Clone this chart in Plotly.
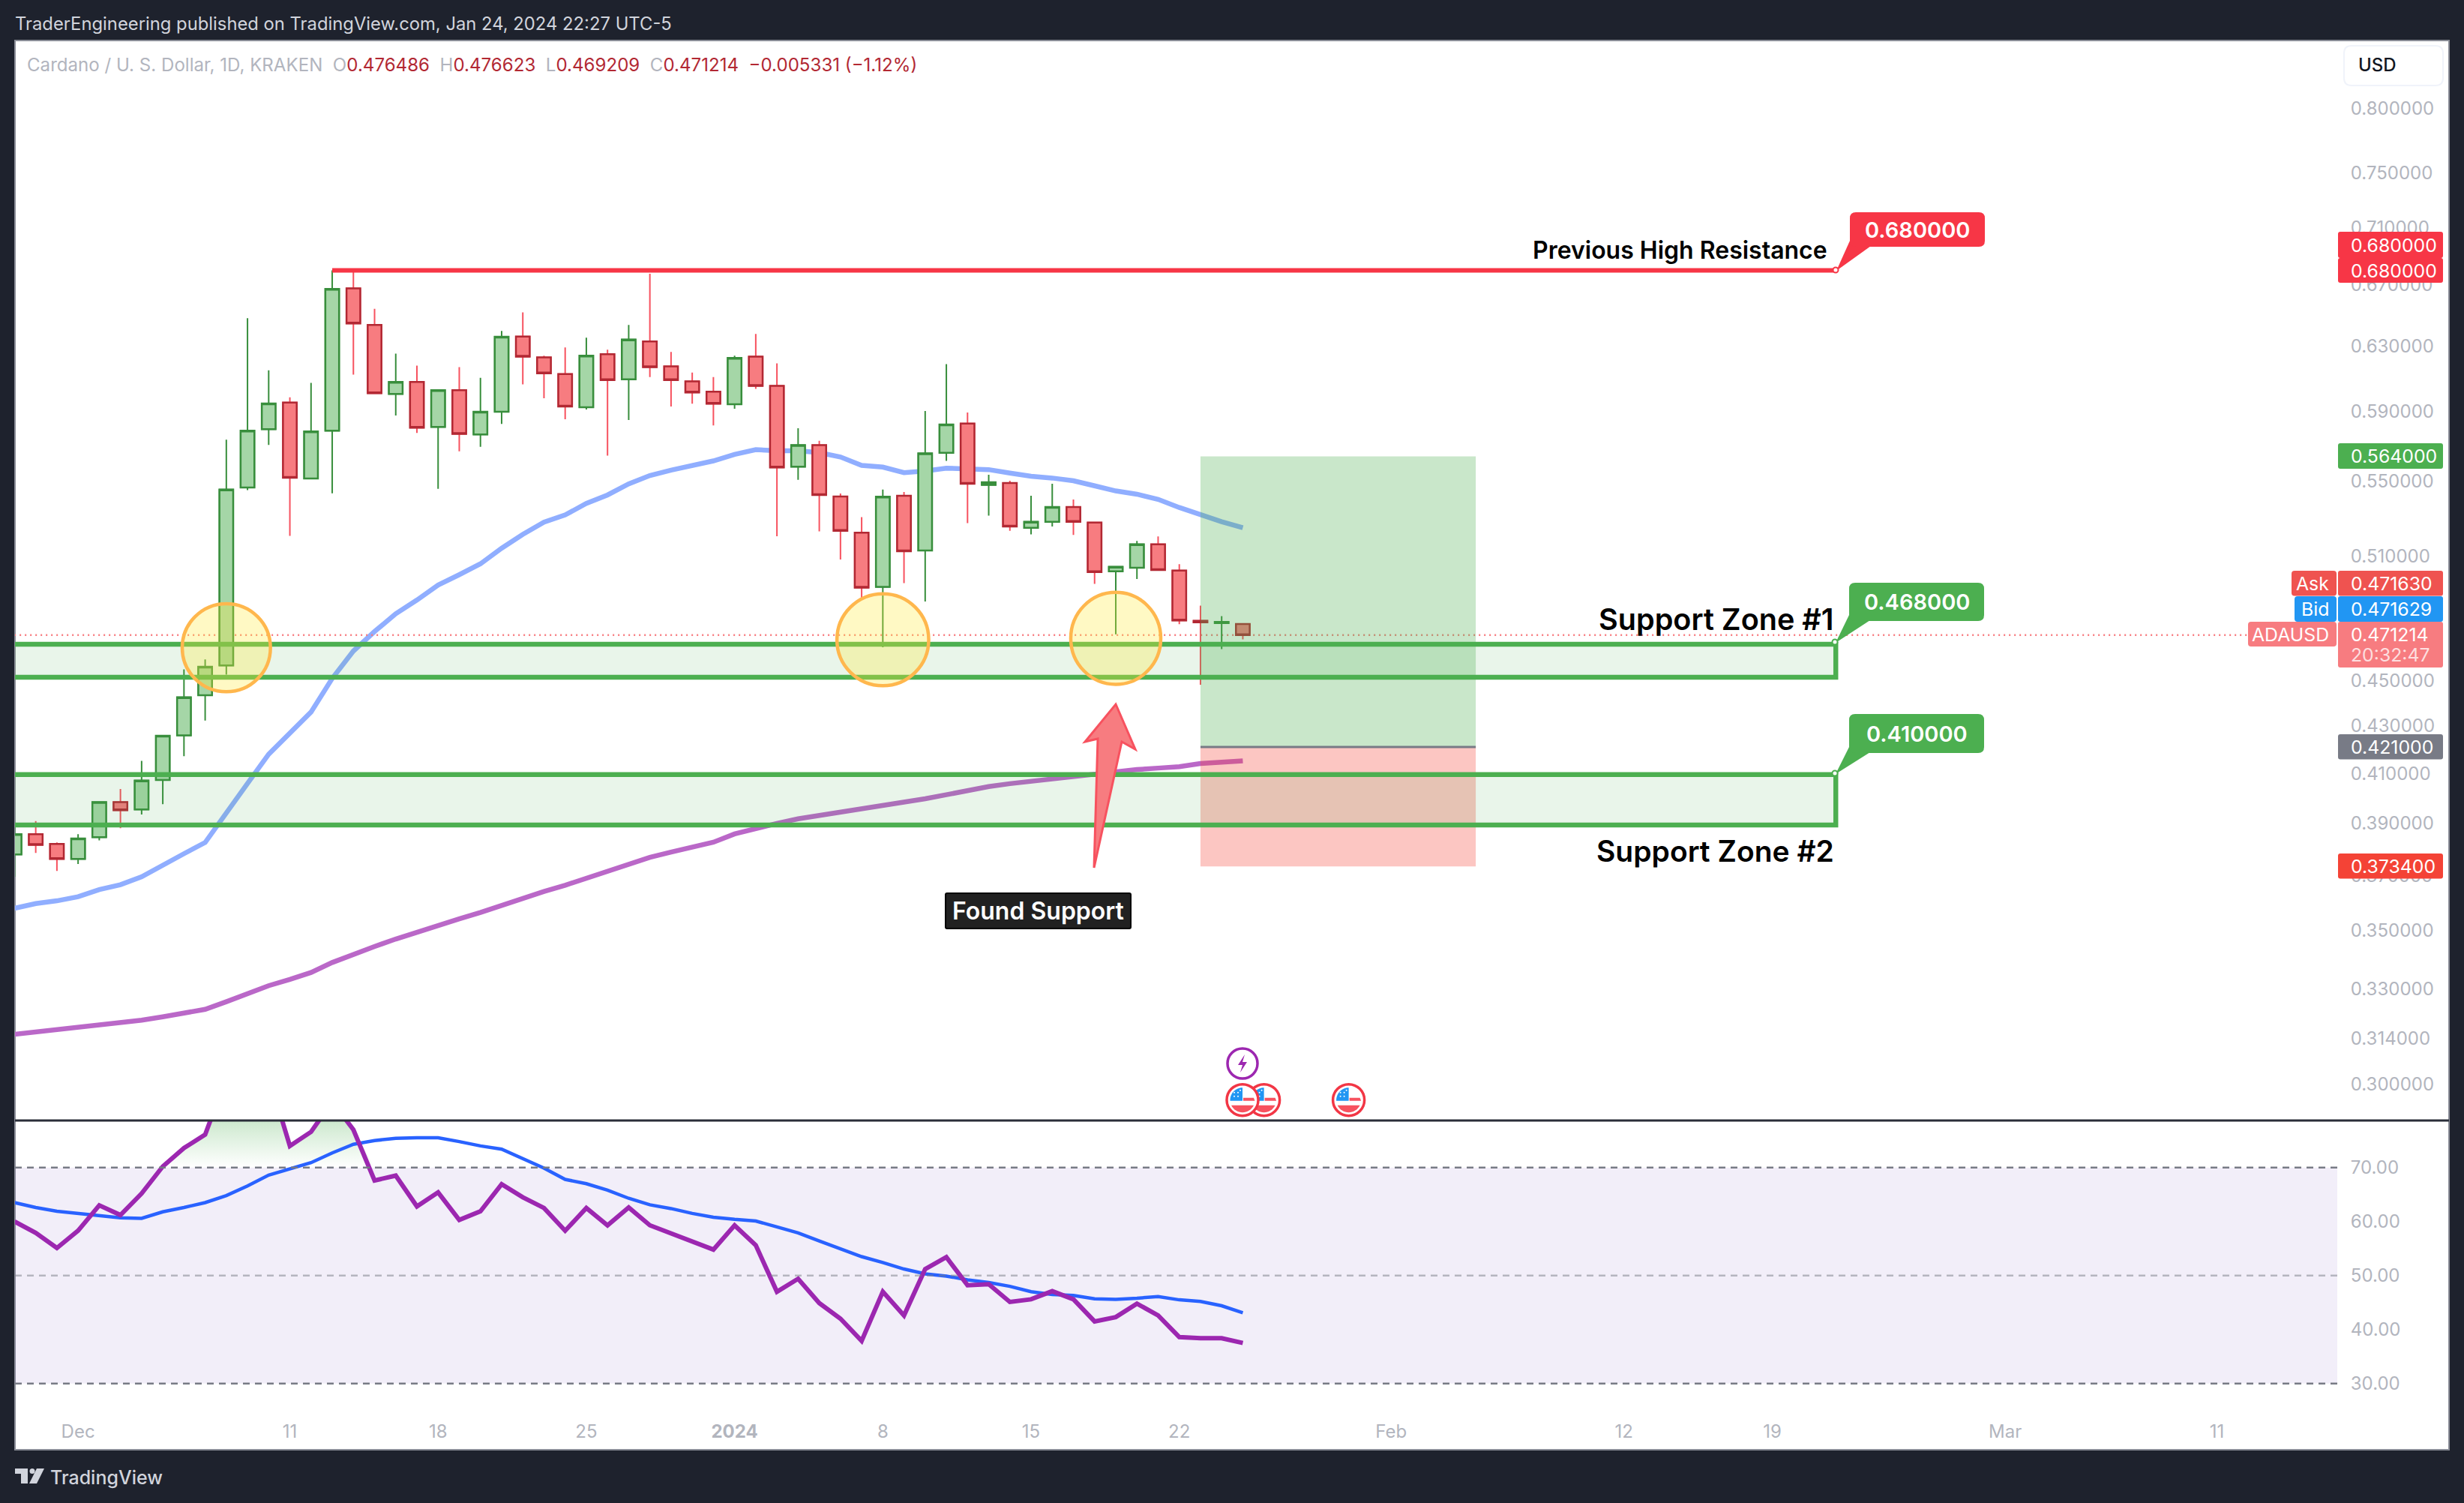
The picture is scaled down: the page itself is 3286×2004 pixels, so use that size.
import math
import pandas as pd
import plotly.graph_objects as go

W, H = 3286, 2004

dates = pd.date_range("2023-11-28", periods=59, freq="D")

open_ = [.3779, .3857, .3819,
         .3762, .3845, .3983, .3954, .4073, .4260, .4435, .4570, .5466, .5796, .5953, .5516, .5787, .6678, .6437, .6005,
         .6078, .5809, .6028, .5765, .5899, .6362, .6230, .6126, .5925, .6250, .6094, .6331, .6174, .6081, .6019,
         .5943, .6235, .6054, .5581, .5704, .5417, .5223, .4946, .5421, .5130, .5660, .5829, .5480, .5491, .5249,
         .5280, .5360, .5276, .5024, .5042, .5162, .5028, .4780, .4769, .476486]
high = [.3893, .3908, .3825,
        .3857, .3983, .4036, .4152, .4258, .4552, .4598, .5735, .6480, .6150, .5985, .6072, .6800, .6800, .6542, .6254,
        .6178, .6028, .6169, .6103, .6398, .6518, .6240, .6293, .6355, .6278, .6437, .6776, .6264, .6135, .6108,
        .6240, .6379, .6193, .5801, .5729, .5433, .5305, .5454, .5441, .5903, .6188, .5894, .5536, .5503, .5421,
        .5486, .5400, .5276, .5047, .5180, .5203, .5060, .4854, .4803, .476623]
low = [.3695, .3785, .3717,
       .3743, .3833, .3880, .3934, .3975, .4172, .4324, .4528, .5451, .5705, .5206, .5516, .5434, .6123, .6010, .5876,
       .5774, .5459, .5668, .5694, .5827, .6063, .5979, .5854, .5912, .5644, .5850, .6108, .5930, .5947, .5818,
       .5916, .6036, .5204, .5508, .5230, .5084, .4881, .4655, .4965, .4874, .5614, .5273, .5313, .5233, .5214,
       .5256, .5211, .4961, .4716, .4985, .5031, .4764, .4482, .4646, .469209]
close = [.3857, .3816, .3762,
         .3840, .3983, .3951, .4071, .4258, .4426, .4564, .5455, .5787, .5948, .5520, .5783, .6674, .6446, .6010, .6078,
         .5805, .6028, .5769, .5899, .6360, .6235, .6131, .5930, .6240, .6090, .6343, .6169, .6090, .6014, .5947,
         .6226, .6054, .5577, .5704, .5425, .5233, .4942, .5416, .5126, .5657, .5823, .5486, .5495, .5256, .5280,
         .5360, .5280, .5020, .5047, .5162, .5031, .4782, .4773, .4775, .471214]

ma50 = [.3580, .3597, .3607,
        .3622, .3648, .3666, .3695, .3736, .3782, .3825, .3937, .4059, .4180, .4268, .4361, .4511, .4637, .4729, .4814,
        .4881, .4955, .5007, .5062, .5142, .5214, .5279, .5317, .5379, .5425, .5486, .5532, .5562, .5589, .5614,
        .5651, .5678, .5672, .5672, .5661, .5636, .5589, .5579, .5548, .5557, .5573, .5569, .5565, .5546, .5528,
        .5518, .5503, .5475, .5447, .5429, .5401, .5357, .5317, .5281, .5249]
ma200 = [.3154, .3161, .3168,
         .3175, .3182, .3190, .3199, .3210, .3222, .3234, .3259, .3285, .3312, .3333, .3356, .3390, .3419, .3445, .3471,
         .3495, .3521, .3542, .3565, .3590, .3618, .3641, .3664, .3690, .3716, .3744, .3768, .3788, .3808, .3826,
         .3858, .3880, .3899, .3917, .3930, .3942, .3954, .3969, .3981, .3997, .4013, .4030, .4046, .4058, .4068,
         .4077, .4090, .4100, .4107, .4116, .4122, .4128, .4141, .4146, .4152]

rsi = [60.0, 57.9, 55.1,
       58.3, 63.0, 61.2, 65.2, 70.2, 73.6, 76.1, 86.6, 86.0, 87.0, 74.0, 76.6, 82.2, 77.0, 67.6, 68.5,
       62.8, 65.4, 60.3, 61.9, 66.9, 64.5, 62.5, 58.3, 62.5, 59.3, 62.6, 59.3, 57.8, 56.2, 54.8,
       59.3, 55.6, 47.0, 49.4, 44.9, 42.0, 37.9, 47.0, 42.6, 51.2, 53.4, 48.2, 48.4, 45.1, 45.6,
       47.1, 45.6, 41.5, 42.3, 44.8, 42.6, 38.6, 38.4, 38.4, 37.5]
rsi_ma = [63.5, 62.6, 61.9,
          61.5, 61.2, 60.7, 60.6, 61.8, 62.6, 63.5, 64.8, 66.6, 68.6, 69.8, 70.9, 72.7, 74.3, 75.0, 75.4,
          75.5, 75.5, 74.8, 74.0, 73.4, 71.6, 69.9, 67.8, 67.0, 65.8, 64.3, 63.1, 62.4, 61.5, 60.8,
          60.4, 60.1, 59.0, 57.9, 56.4, 54.9, 53.5, 52.4, 51.2, 50.3, 49.9, 49.2, 48.7, 48.0, 47.0,
          46.5, 46.3, 45.7, 45.6, 45.8, 46.1, 45.5, 45.2, 44.4, 43.1]

price_ticks = [0.80, 0.75, 0.71, 0.67, 0.63, 0.59, 0.55, 0.51, 0.45, 0.43, 0.41, 0.39, 0.37, 0.35, 0.33, 0.314, 0.30]
rsi_ticks = [70, 60, 50, 40, 30]
date_ticks = ["2023-12-01", "2023-12-11", "2023-12-18", "2023-12-25", "2024-01-01", "2024-01-08", "2024-01-15",
              "2024-01-22", "2024-02-01", "2024-02-12", "2024-02-19", "2024-03-01", "2024-03-11"]
date_labels = ["Dec", "11", "18", "25", "<b>2024</b>", "8", "15", "22", "Feb", "12", "19", "Mar", "11"]

last_price = 0.471214
resistance = 0.68
zone1 = [0.4669, 0.4516]
zone2 = [0.4095, 0.3893]
entry, target, stop = 0.421, 0.564, 0.3734
ellipses = [("2023-12-05 22:00", "2023-12-10 02:00", 0.4451, 0.4863),
            ("2024-01-05 20:00", "2024-01-10 04:00", 0.4478, 0.4912),
            ("2024-01-16 21:00", "2024-01-21 03:00", 0.4484, 0.4919)]

GREEN, GREEN_FILL = "#388e3c", "#a5d6a7"
RED_EDGE, RED_WICK, RED_FILL = "#b22833", "#f7525f", "#f77c80"
TICK = "#b2b5be"
FONT = "Inter"


def fx(px):
    return px / W


def fy(py):
    return 1 - py / H


def poly(points):
    return "M " + " L ".join(f"{fx(x):.6f},{fy(y):.6f}" for x, y in points) + " Z"


def rrect(x0, y0, x1, y1, r=5):
    # rounded box, in picture pixels
    p = lambda x, y: f"{fx(x):.6f},{fy(y):.6f}"
    return (f"M {p(x0 + r, y0)} L {p(x1 - r, y0)} Q {p(x1, y0)} {p(x1, y0 + r)} L {p(x1, y1 - r)} "
            f"Q {p(x1, y1)} {p(x1 - r, y1)} L {p(x0 + r, y1)} Q {p(x0, y1)} {p(x0, y1 - r)} "
            f"L {p(x0, y0 + r)} Q {p(x0, y0)} {p(x0 + r, y0)} Z")


shapes = []
annotations = []


def paper_path(path, fill, line=None, width=0, layer="above"):
    shapes.append(dict(type="path", xref="paper", yref="paper", path=path, fillcolor=fill, layer=layer,
                       line=dict(color=line or "rgba(0,0,0,0)", width=width)))


def label(px, py, text, size=24, color="#ffffff", anchor="left", weight=400, family=FONT):
    annotations.append(dict(xref="paper", yref="paper", x=fx(px), y=fy(py), text=text, showarrow=False,
                            xanchor=anchor, yanchor="middle", borderpad=0, borderwidth=0,
                            font=dict(family=family, size=size, color=color, weight=weight)))


def circle(cx, cy, r, fill, line, width):
    shapes.append(dict(type="circle", xref="paper", yref="paper", x0=fx(cx - r), x1=fx(cx + r),
                       y0=fy(cy + r), y1=fy(cy - r), fillcolor=fill, layer="above",
                       line=dict(color=line, width=width)))


def arc_points(cx, cy, r, a0, a1, n=16):
    return [(cx + r * math.cos(math.radians(a0 + (a1 - a0) * i / n)),
             cy - r * math.sin(math.radians(a0 + (a1 - a0) * i / n))) for i in range(n + 1)]


def flag_icon(cx, cy):
    circle(cx, cy, 21, "#ffffff", "#f23645", 3.5)
    r = 16.5
    paper_path(poly([(cx, cy)] + arc_points(cx, cy, r, 90, 180) + [(cx - r, cy + 1), (cx, cy + 1)]), "#2196f3")
    paper_path(poly([(cx + 1, cy - 3), (cx + 15, cy - 3), (cx + 16.5, cy + 1), (cx + 1, cy + 1)]), "#f7525f")
    paper_path(poly(arc_points(cx, cy, r, 205, 335)), "#f7525f")
    for dx, dy in [(-11, -5), (-6, -5), (-11, -10), (-6, -10), (-3, -13)]:
        circle(cx + dx, cy + dy, 1, "#ffffff", "#ffffff", 0)


def callout(x0, y0, x1, y1, ax, ay, text, fill):
    paper_path(poly([(x0, y1 - 8), (x0 + 28, y1 - 1), (ax + 1, ay + 1)]), fill)
    paper_path(rrect(x0, y0, x1, y1, 8), fill)
    circle(ax, ay, 3.5, "#ffffff", fill, 2)
    label((x0 + x1) / 2, (y0 + y1) / 2, text, size=29, anchor="center", weight=600)


def tag(y0, y1, text, fill):
    paper_path(rrect(3118, y0, 3258, y1, 3), fill)
    label(3135, (y0 + y1) / 2, text, size=24.8)


def side_tag(x0, y0, y1, text, fill):
    paper_path(rrect(x0, y0, 3116, y1, 4), fill)
    label(3106, (y0 + y1) / 2, text, size=24.8, anchor="right")


# page furniture
paper_path(poly([(20, 54), (3266, 54), (3266, 1933), (20, 1933)]), "#ffffff", "#8a8d97", 2, layer="below")
label(20, 32, "TraderEngineering published on TradingView.com, Jan 24, 2024 22:27 UTC-5", size=23.8, color="#d1d4dc")
nb = "\u00a0"
legend = (f'<span style="color:{TICK}">Cardano / U. S. Dollar, 1D, KRAKEN{nb}{nb}O</span>'
          f'<span style="color:{RED_EDGE}">0.476486</span><span style="color:{TICK}">{nb}{nb}H</span>'
          f'<span style="color:{RED_EDGE}">0.476623</span><span style="color:{TICK}">{nb}{nb}L</span>'
          f'<span style="color:{RED_EDGE}">0.469209</span><span style="color:{TICK}">{nb}{nb}C</span>'
          f'<span style="color:{RED_EDGE}">0.471214{nb}{nb}\u22120.005331 (\u22121.12%)</span>')
label(36, 86, legend, size=24.1)
paper_path(rrect(3126, 61, 3258, 114, 10), "#ffffff", "#f0f3fa", 2)
label(3145, 87, "USD", size=24, color="#131722", weight=500)

# TradingView logo
paper_path(poly([(20, 1958), (37, 1958), (37, 1978), (28, 1978), (28, 1965), (20, 1965)]), "#d1d4dc")
circle(43, 1961.5, 3.5, "#d1d4dc", "#d1d4dc", 0)
paper_path(poly([(49, 1958), (59, 1958), (49, 1978), (39, 1978)]), "#d1d4dc")
label(67, 1970, "TradingView", size=25, color="#d1d4dc", weight=500)

# drawings on the price pane
shapes.append(dict(type="rect", xref="x", yref="y", x0="2024-01-23", x1="2024-02-05", y0=entry, y1=target,
                   fillcolor="rgba(76,175,80,0.3)", line_width=0, layer="above"))
shapes.append(dict(type="rect", xref="x", yref="y", x0="2024-01-23", x1="2024-02-05", y0=stop, y1=entry,
                   fillcolor="rgba(244,67,54,0.3)", line_width=0, layer="above"))
shapes.append(dict(type="line", xref="x", yref="y", x0="2024-01-23", x1="2024-02-05", y0=entry, y1=entry,
                   line=dict(color="#787b86", width=3), layer="above"))
for zone in (zone1, zone2):
    shapes.append(dict(type="rect", xref="x", yref="y", x0="2023-11-15", x1="2024-02-22", y0=zone[1], y1=zone[0],
                       fillcolor="rgba(76,175,80,0.12)", line=dict(color="#4caf50", width=6.5), layer="above"))
shapes.append(dict(type="line", xref="x", yref="y", x0="2023-12-13", x1="2024-02-22", y0=resistance, y1=resistance,
                   line=dict(color="#f73646", width=6), layer="above"))
for x0, x1, y0, y1 in ellipses:
    shapes.append(dict(type="circle", xref="x", yref="y", x0=x0, x1=x1, y0=y0, y1=y1,
                       fillcolor="rgba(255,235,59,0.3)", line=dict(color="#ffb74d", width=4.5), layer="above"))

callout(2467, 283, 2647, 329, 2448, 360, "0.680000", "#f73646")
callout(2466, 777, 2646, 828, 2447, 856, "0.468000", "#4caf50")
callout(2466, 952, 2646, 1004, 2447, 1031, "0.410000", "#4caf50")
label(2437, 333, "Previous High Resistance", size=32, color="#000000", anchor="right", weight=600)
label(2446, 826, "Support Zone #1", size=39.6, color="#000000", anchor="right", weight=600)
label(2446, 1134, "Support Zone #2", size=39, color="#000000", anchor="right", weight=600)

# arrow and its caption
paper_path(poly([(1488, 939), (1514, 999), (1496, 989), (1459, 1157), (1464, 985), (1447, 989)]),
           RED_FILL, RED_WICK, 3)
paper_path(rrect(1261, 1191, 1508, 1238, 2), "#212121", "#000000", 2)
label(1384, 1214, "Found Support", size=32, anchor="center", weight=600)

# economic event icons
circle(1657, 1418, 20, "#ffffff", "#9c27b0", 3.5)
paper_path(poly([(1660, 1406), (1651, 1420), (1657, 1420), (1654, 1430), (1663, 1416), (1657, 1416)]), "#9c27b0")
flag_icon(1685.6, 1466.7)
flag_icon(1657, 1466.7)
flag_icon(1798.6, 1466.7)

# price scale tags
tag(309, 344, "0.680000", "#f73646")
tag(344, 377, "0.680000", "#f73646")
tag(591, 625, "0.564000", "#4caf50")
tag(761, 794.5, "0.471630", "#ef5350")
tag(795, 829, "0.471629", "#2196f3")
paper_path(rrect(3118, 829, 3258, 890, 3), RED_FILL)
label(3135, 845.5, "0.471214", size=24.8)
label(3135, 873, "20:32:47", size=24.8, color="rgba(255,255,255,0.75)")
tag(979, 1012.5, "0.421000", "#787b86")
tag(1138, 1171.5, "0.373400", "#f44336")
side_tag(3056, 761, 794.5, "Ask", "#ef5350")
side_tag(3060, 795, 829, "Bid", "#2196f3")
side_tag(2998, 829, 862, "ADAUSD", RED_FILL)

# RSI pane bands
for level, color in ((70, "#787b86"), (50, "rgba(120,123,134,0.5)"), (30, "#787b86")):
    shapes.append(dict(type="line", xref="paper", yref="y3", x0=fx(20), x1=fx(3117), y0=level, y1=level,
                       line=dict(color=color, width=2.5, dash="9px 7px"), layer="above"))
shapes.append(dict(type="rect", xref="paper", yref="y3", x0=fx(20), x1=fx(3117), y0=30, y1=70,
                   fillcolor="rgba(126,87,194,0.1)", line_width=0, layer="below"))
# pane separator
shapes.append(dict(type="line", xref="paper", yref="paper", x0=fx(20), x1=fx(3266), y0=fy(1494), y1=fy(1494),
                   line=dict(color="#2a2e39", width=3), layer="above"))

fig = go.Figure()
fig.add_trace(go.Scatter(x=dates, y=ma200, mode="lines", line=dict(color="#ba68c8", width=6.5), yaxis="y"))
fig.add_trace(go.Scatter(x=dates, y=ma50, mode="lines", line=dict(color="#90aeff", width=6.5), yaxis="y"))
fig.add_trace(go.Scatter(x=[dates[0] - pd.Timedelta(days=1), "2024-03-13"], y=[last_price, last_price], mode="lines",
                         line=dict(color=RED_FILL, width=2.5, dash="2px 5px"), yaxis="y"))

# wicks first, bodies drawn on top of them with a darker edge
fig.add_trace(go.Candlestick(x=dates, open=open_, high=high, low=low, close=close, yaxis="y2", whiskerwidth=0,
                             increasing=dict(line=dict(color=GREEN, width=2), fillcolor=GREEN_FILL),
                             decreasing=dict(line=dict(color=RED_WICK, width=2), fillcolor=RED_FILL)))
fig.add_trace(go.Candlestick(x=dates, open=open_, close=close, yaxis="y2", whiskerwidth=0,
                             high=[max(o, c) for o, c in zip(open_, close)],
                             low=[min(o, c) for o, c in zip(open_, close)],
                             increasing=dict(line=dict(color=GREEN, width=2.5), fillcolor=GREEN_FILL),
                             decreasing=dict(line=dict(color=RED_EDGE, width=2.5), fillcolor=RED_FILL)))

# overbought gradient between the 70 line and RSI
fig.add_trace(go.Scatter(x=dates, y=[70] * len(dates), mode="lines", line=dict(width=0, color="rgba(0,0,0,0)"),
                         yaxis="y3"))
fig.add_trace(go.Scatter(x=dates, y=[max(v, 70) for v in rsi], mode="lines", yaxis="y3",
                         line=dict(width=0, color="rgba(0,0,0,0)"), fill="tonexty",
                         fillgradient=dict(type="vertical", start=70, stop=78.7,
                                           colorscale=[[0, "rgba(76,175,80,0)"], [1, "rgba(76,175,80,0.28)"]])))
fig.add_trace(go.Scatter(x=dates, y=rsi_ma, mode="lines", line=dict(color="#2962ff", width=4.5), yaxis="y3"))
fig.add_trace(go.Scatter(x=dates, y=rsi, mode="lines", line=dict(color="#9c27b0", width=6), yaxis="y3"))

price_axis = dict(type="log", range=[math.log10(0.2892), math.log10(0.8568)], domain=[fy(1494), fy(54)],
                  showgrid=False, zeroline=False, fixedrange=True)

fig.update_layout(
    width=W, height=H,
    margin=dict(l=0, r=0, t=0, b=0),
    paper_bgcolor="#1e222d",
    plot_bgcolor="rgba(0,0,0,0)",
    showlegend=False,
    boxmode="overlay",
    boxgap=0.35,
    boxgroupgap=0,
    xaxis=dict(type="date", domain=[fx(20), fx(3117)], anchor="y3", range=["2023-11-28 00:30", "2024-03-16 16:20"],
               rangeslider=dict(visible=False), showgrid=False, zeroline=False, showline=False,
               tickmode="array", tickvals=date_ticks, ticktext=date_labels, ticks="outside", ticklen=7,
               tickcolor="rgba(0,0,0,0)", tickfont=dict(family=FONT, size=24, color=TICK)),
    yaxis=dict(**price_axis, side="right", anchor="x", tickmode="array", tickvals=price_ticks,
               ticktext=[f"{v:.6f}" for v in price_ticks], ticks="outside", ticklen=12,
               tickcolor="rgba(0,0,0,0)", tickfont=dict(family=FONT, size=24, color=TICK)),
    yaxis2=dict(**price_axis, overlaying="y", side="right", anchor="x", showticklabels=False, ticks=""),
    yaxis3=dict(domain=[fy(1880), fy(1494)], range=[50 - (1880 - 1700.7) / 7.2, 50 + (1700.7 - 1494) / 7.2],
                side="right", anchor="x", showgrid=False, zeroline=False, tickmode="array", tickvals=rsi_ticks,
                ticktext=[f"{v:.2f}" for v in rsi_ticks], ticks="outside", ticklen=12, tickcolor="rgba(0,0,0,0)",
                tickfont=dict(family=FONT, size=24, color=TICK)),
    shapes=shapes,
    annotations=annotations,
)

# the page's default body margin would push the figure off its 0,0 corner
fig.write_html("out.html", config=dict(displayModeBar=False),
               post_script="document.body.style.margin = '0'; document.body.style.overflow = 'hidden';")
